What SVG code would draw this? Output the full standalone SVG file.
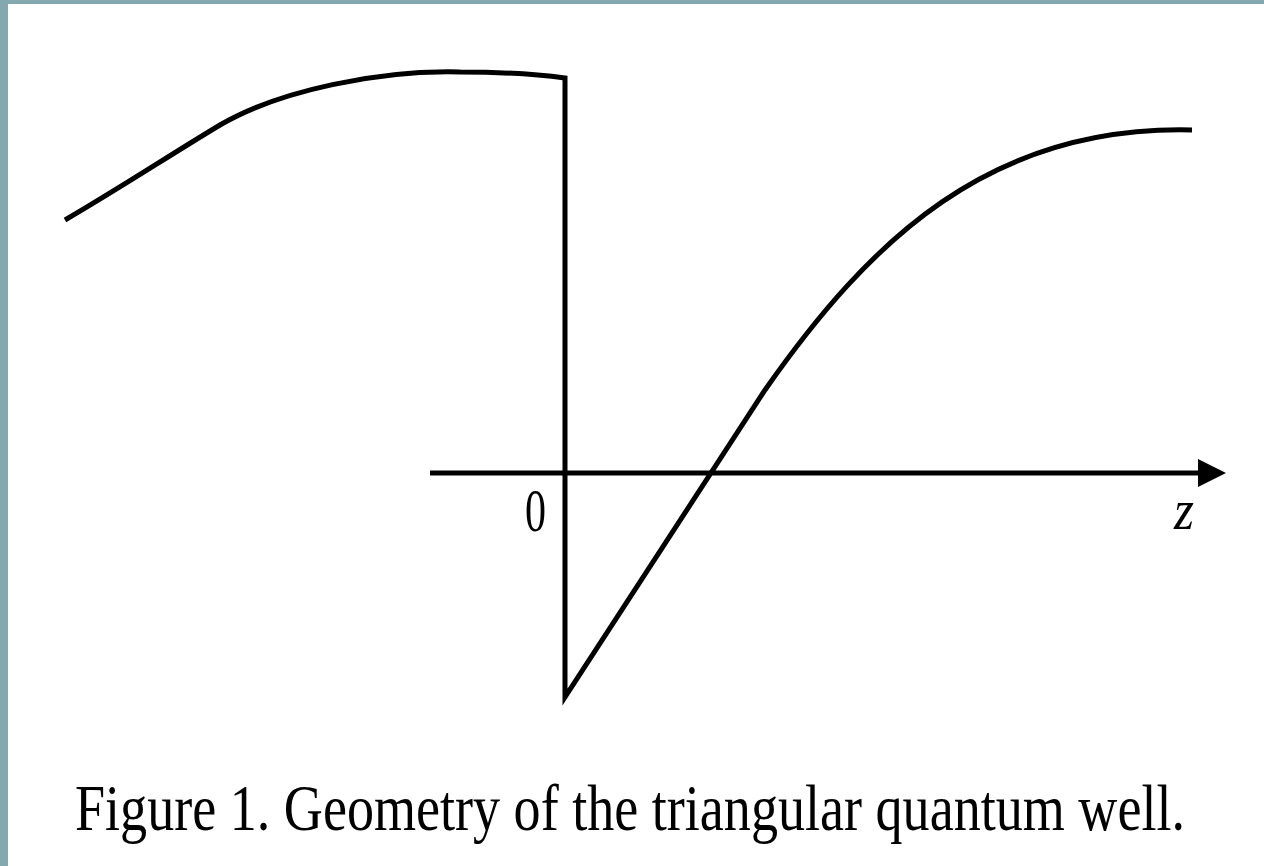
<svg xmlns="http://www.w3.org/2000/svg" width="1264" height="866" viewBox="0 0 1264 866">
<defs>
<style>
.ln{fill:none;stroke:#000;stroke-width:5;stroke-linejoin:miter}
.tx{font-family:"Liberation Serif","Times New Roman",serif;fill:#000}
</style>
<marker id="arr" markerUnits="userSpaceOnUse" markerWidth="30" markerHeight="32" refX="2" refY="16" orient="auto"><path d="M0,2 L28,16 L0,30 Z" fill="#000"/></marker>
</defs>
<rect x="0" y="0" width="1264" height="866" fill="#84a8b0"/>
<rect x="8" y="4" width="1256" height="862" fill="#fff"/>
<g id="connectors">
<line id="z-axis" class="ln" x1="430" y1="473" x2="1200" y2="473" marker-end="url(#arr)"/>
</g>
<g id="potential">
<path class="ln" d="M65,220 C120,188 170,155 220,125 C280,90 380,70 460,72 C500,72 535,74 565,78 L565,697 L765,390 C870,240 990,125 1192,130"/>
</g>
<g id="labels">
<text class="tx" x="525" y="531" font-size="62" textLength="21" lengthAdjust="spacingAndGlyphs">0</text>
<text class="tx" x="1174" y="529" font-size="58" font-style="italic" textLength="20" lengthAdjust="spacingAndGlyphs">z</text>
<text class="tx" transform="translate(75,830) scale(0.75,1)" x="0" y="0" font-size="65" textLength="1480" lengthAdjust="spacingAndGlyphs">Figure 1. Geometry of the triangular quantum well.</text>
</g>
</svg>
